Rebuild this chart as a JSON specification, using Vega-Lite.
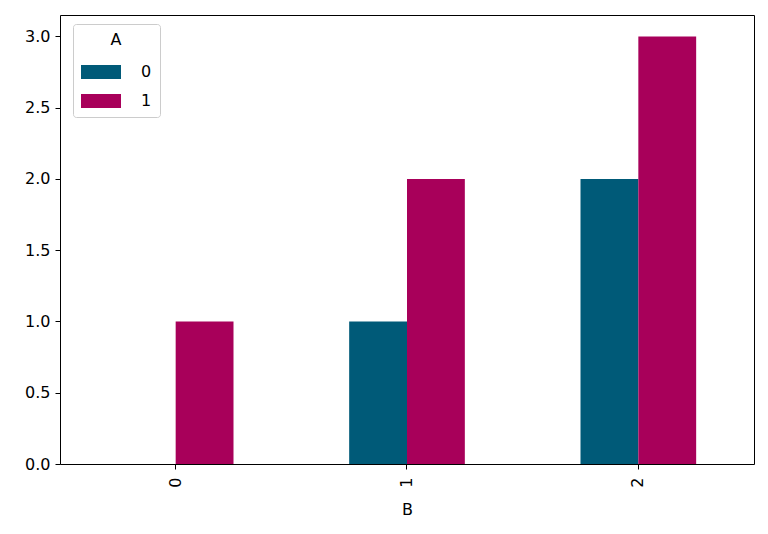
{
  "$schema": "https://vega.github.io/schema/vega-lite/v6.json",
  "autosize": "none",
  "padding": {"left": 60, "top": 15, "right": 14, "bottom": 70},
  "width": 694,
  "height": 449,
  "background": "white",
  "config": {
    "font": "DejaVu Sans",
    "view": {"stroke": "black", "strokeWidth": 1}
  },
  "data": {
    "values": [
      {"B": "0", "A": "0", "count": 0},
      {"B": "0", "A": "1", "count": 1},
      {"B": "1", "A": "0", "count": 1},
      {"B": "1", "A": "1", "count": 2},
      {"B": "2", "A": "0", "count": 2},
      {"B": "2", "A": "1", "count": 3}
    ]
  },
  "mark": {"type": "bar"},
  "encoding": {
    "x": {
      "field": "B",
      "type": "nominal",
      "scale": {"paddingInner": 0.5, "paddingOuter": 0.25},
      "axis": {
        "title": "B",
        "titleFontSize": 16,
        "titleFontWeight": "normal",
        "titleColor": "black",
        "titlePadding": 14,
        "labelAngle": -90,
        "labelFontSize": 16,
        "labelColor": "black",
        "domain": false,
        "tickColor": "black",
        "tickSize": 5,
        "labelPadding": 8
      }
    },
    "xOffset": {"field": "A", "type": "nominal"},
    "y": {
      "field": "count",
      "type": "quantitative",
      "scale": {"domain": [0, 3.15], "nice": false},
      "axis": {
        "title": null,
        "values": [0, 0.5, 1, 1.5, 2, 2.5, 3],
        "format": ".1f",
        "grid": false,
        "domain": false,
        "labelFontSize": 16,
        "labelColor": "black",
        "tickColor": "black",
        "tickSize": 5,
        "labelPadding": 5
      }
    },
    "color": {
      "field": "A",
      "type": "nominal",
      "scale": {"domain": ["0", "1"], "range": ["#005a78", "#a8005a"]},
      "legend": {
        "title": "A",
        "orient": "none",
        "legendX": 13,
        "legendY": 9,
        "titleAnchor": "middle",
        "titleFontSize": 16,
        "titleFontWeight": "normal",
        "titleColor": "black",
        "titlePadding": 4,
        "labelFontSize": 16,
        "labelColor": "black",
        "symbolType": "M-1,-0.35H1V0.35H-1Z",
        "symbolSize": 1600,
        "symbolStrokeWidth": 0,
        "symbolOpacity": 1,
        "rowPadding": 1,
        "labelOffset": 20,
        "padding": 8,
        "strokeColor": "#cccccc",
        "cornerRadius": 3,
        "fillColor": "white"
      }
    }
  }
}
